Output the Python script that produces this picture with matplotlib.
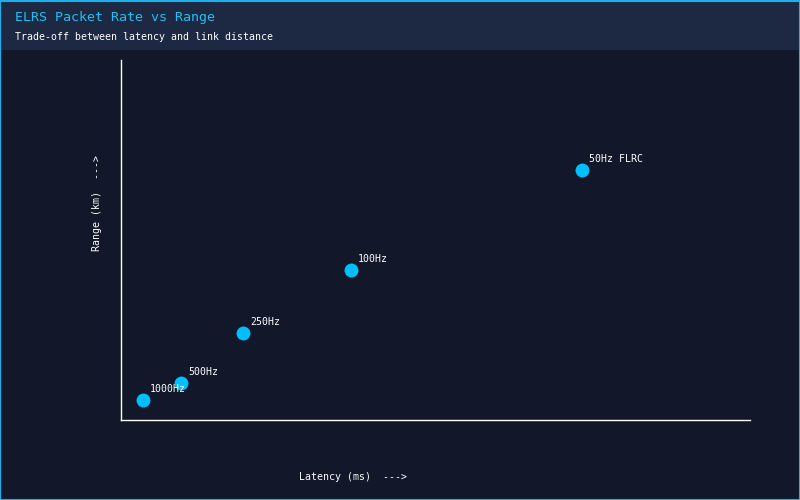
import matplotlib
matplotlib.use("Agg")
import matplotlib.pyplot as plt
from matplotlib.patches import Rectangle

rates = ["1000Hz", "500Hz", "250Hz", "100Hz", "50Hz FLRC"]
latency_ms = [1.05, 2.86, 5.82, 10.97, 22.0]
range_km = [2.0, 3.7, 8.7, 15.0, 25.0]

BG = "#121829"
HEADER = "#1d2942"
ACCENT = "#00bfff"
FONT = "DejaVu Sans Mono"

fig = plt.figure(figsize=(8, 5), dpi=100, facecolor=BG)
fig.patches.append(Rectangle((0, 0.9), 1, 0.1, transform=fig.transFigure,
                             facecolor=HEADER, edgecolor="none", zorder=0))
fig.patches.append(Rectangle((0.0006, 0.001), 0.9988, 0.998, transform=fig.transFigure,
                             facecolor="none", edgecolor="#19b0f0", linewidth=1.5, zorder=5))

fig.text(15/800, 1-18/500, "ELRS Packet Rate vs Range", color="#1ec0f5",
         fontsize=9.6, family=FONT, va="center", ha="left")
fig.text(15/800, 1-37/500, "Trade-off between latency and link distance", color="white",
         fontsize=7.1, family=FONT, va="center", ha="left")

ax = fig.add_axes([121/800, 80/500, 629/800, 360/500])
ax.set_facecolor(BG)
ax.scatter(latency_ms, range_km, s=100, color=ACCENT, zorder=3, linewidths=0)
for x, y, lab in zip(latency_ms, range_km, rates):
    ax.annotate(lab, (x, y), xytext=(5, 4), textcoords="offset points",
                color="white", fontsize=7.1, family=FONT, ha="left", va="bottom")

ax.set_xlim(0, 30)
ax.set_ylim(0, 36)
ax.set_xticks([])
ax.set_yticks([])
for s in ["top", "right"]:
    ax.spines[s].set_visible(False)
for s in ["left", "bottom"]:
    ax.spines[s].set_color("white")
    ax.spines[s].set_linewidth(1)

fig.text(353/800, 1-477/500, "Latency (ms)  --->", color="white", fontsize=7.1,
         family=FONT, ha="center", va="center")
fig.text(97/800, 1-203/500, "Range (km)  --->", color="white", fontsize=7.1,
         family=FONT, ha="center", va="center", rotation=90)

fig.savefig("out.png", dpi=100, facecolor=BG)
